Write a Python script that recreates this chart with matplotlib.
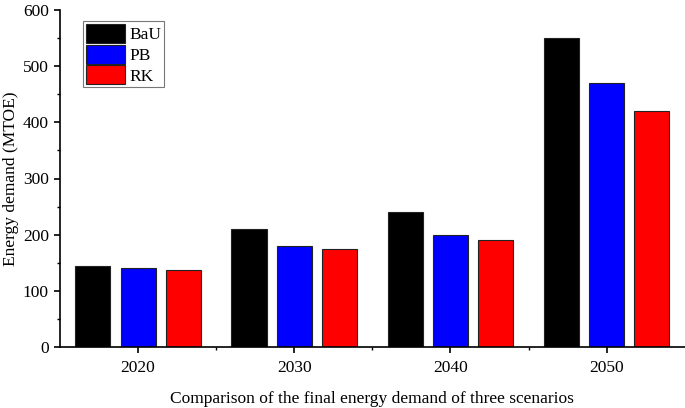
import numpy as np
import matplotlib
matplotlib.use("Agg")
import matplotlib.pyplot as plt
from matplotlib.ticker import MultipleLocator, FixedLocator

years = ["2020", "2030", "2040", "2050"]
bau = [145, 210, 240, 550]
pb = [140, 180, 200, 470]
rk = [137, 175, 190, 420]
scenarios = ["BaU", "PB", "RK"]
colors = ["black", "blue", "red"]

plt.rcParams["font.family"] = ["Liberation Serif", "DejaVu Serif"]

fig = plt.figure(figsize=(6.85, 4.08), dpi=100)
ax = fig.add_axes([0.0876, 0.1495, 0.912, 0.826])

x = np.arange(len(years))
width = 0.225
step = 0.29
for i, (vals, name, c) in enumerate(zip([bau, pb, rk], scenarios, colors)):
    ax.bar(x + (i - 1) * step, vals, width, color=c, edgecolor="#222222",
           linewidth=0.8, label=name)

ax.set_xlim(-0.5, 3.5)
ax.set_ylim(0, 600)
ax.set_xticks(x)
ax.set_xticklabels(years)
ax.xaxis.set_minor_locator(FixedLocator([0.5, 1.5, 2.5]))
ax.yaxis.set_major_locator(MultipleLocator(100))
ax.yaxis.set_minor_locator(MultipleLocator(50))

for s in ["top", "right"]:
    ax.spines[s].set_visible(False)
for s in ["left", "bottom"]:
    ax.spines[s].set_linewidth(1.2)

ax.tick_params(axis="both", which="major", direction="out", length=4.5, width=1.2,
               labelsize=12.5)
ax.tick_params(axis="both", which="minor", direction="out", length=2.5, width=1.0)
ax.tick_params(axis="x", pad=5)

ax.set_xlabel("Comparison of the final energy demand of three scenarios",
              fontsize=12.5, labelpad=11)
ax.set_ylabel("Energy demand (MTOE)", fontsize=12.5, labelpad=3)

leg = ax.legend(loc="upper left", bbox_to_anchor=(0.037, 0.966), fontsize=12.5,
                frameon=True, fancybox=False, edgecolor="#555555",
                handlelength=2.25, handleheight=1.3, handletextpad=0.25,
                labelspacing=0.08, borderpad=0.15, borderaxespad=0)
leg.get_frame().set_linewidth(0.8)

fig.savefig("out.png", dpi=100)
